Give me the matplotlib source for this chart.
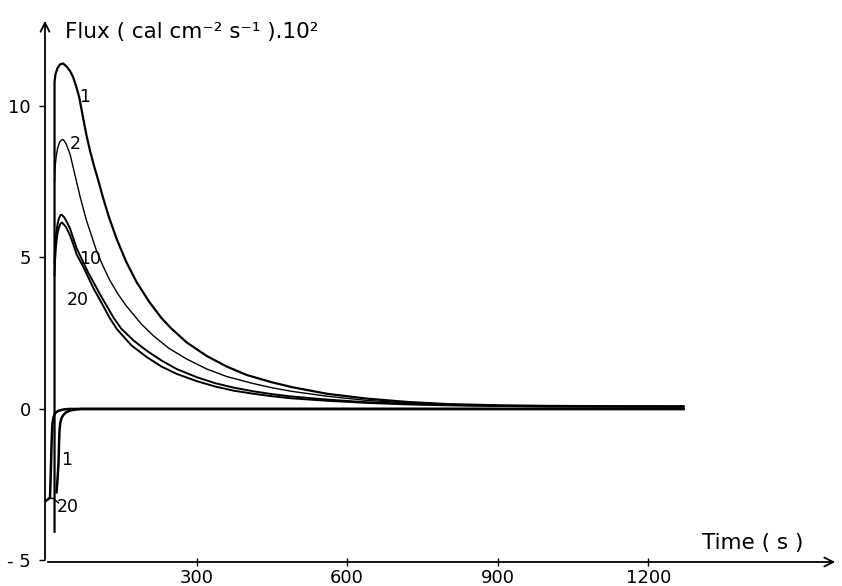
import matplotlib
matplotlib.use("Agg")
import matplotlib.pyplot as plt

# ---- data ----
t_c1 = [17, 17, 19, 23, 28, 34, 41, 48, 54, 60, 66, 74, 81, 88, 96, 104, 114, 125, 141, 160, 180, 205, 230, 250, 280, 320, 360, 400, 450, 490, 560, 640, 720, 800, 900, 1000, 1130, 1270]
v_c1 = [-4.05, 10.8, 11.05, 11.25, 11.37, 11.4, 11.3, 11.15, 10.95, 10.65, 10.3, 9.6, 9.0, 8.5, 8.0, 7.55, 6.95, 6.35, 5.6, 4.85, 4.2, 3.55, 3.0, 2.65, 2.2, 1.75, 1.4, 1.12, 0.88, 0.72, 0.5, 0.34, 0.23, 0.16, 0.12, 0.1, 0.09, 0.08]

t_c2 = [17, 18, 20, 23, 27, 31, 35, 40, 48, 58, 68, 81, 91, 101, 114, 127, 143, 160, 175, 190, 215, 245, 280, 320, 360, 410, 450, 490, 560, 640, 720, 800, 900, 1000, 1130, 1270]
v_c2 = [7.5, 7.95, 8.3, 8.6, 8.8, 8.88, 8.88, 8.75, 8.4, 7.7, 7.0, 6.2, 5.7, 5.2, 4.7, 4.25, 3.8, 3.4, 3.1, 2.8, 2.4, 2.0, 1.65, 1.32, 1.07, 0.85, 0.7, 0.58, 0.42, 0.28, 0.2, 0.14, 0.11, 0.09, 0.08, 0.08]

t_c10 = [17, 18, 20, 23, 26, 29, 32, 36, 40, 48, 55, 61, 74, 84, 94, 107, 121, 135, 150, 175, 200, 230, 260, 300, 337, 375, 414, 450, 490, 560, 640, 720, 800, 900, 1000, 1130, 1270]
v_c10 = [4.8, 5.3, 5.75, 6.1, 6.3, 6.4, 6.4, 6.33, 6.22, 5.95, 5.6, 5.3, 4.85, 4.5, 4.2, 3.8, 3.4, 3.0, 2.65, 2.25, 1.93, 1.6, 1.32, 1.05, 0.85, 0.7, 0.58, 0.49, 0.41, 0.31, 0.22, 0.17, 0.13, 0.1, 0.09, 0.08, 0.08]

t_c20 = [17, 18, 20, 23, 26, 29, 32, 36, 40, 48, 55, 61, 74, 84, 94, 104, 114, 127, 141, 170, 200, 230, 260, 300, 337, 375, 414, 450, 490, 560, 640, 720, 800, 900, 1000, 1130, 1270]
v_c20 = [4.4, 4.9, 5.4, 5.8, 6.0, 6.12, 6.15, 6.08, 6.0, 5.72, 5.4, 5.1, 4.7, 4.35, 4.0, 3.7, 3.4, 3.0, 2.64, 2.1, 1.72, 1.4, 1.16, 0.92, 0.74, 0.6, 0.5, 0.42, 0.35, 0.27, 0.2, 0.15, 0.12, 0.1, 0.08, 0.08, 0.08]

t_n20 = [0, 4, 8, 9, 10, 11, 12, 13, 15, 17, 20, 25, 34, 45, 60, 1270]
v_n20 = [-3.03, -2.98, -2.92, -2.4, -1.8, -1.2, -0.75, -0.45, -0.27, -0.18, -0.11, -0.06, -0.02, 0.0, 0.0, 0.0]

t_n1 = [21, 23, 25, 26, 27, 28.5, 31, 34.5, 40, 48, 58, 70, 1270]
v_n1 = [-2.75, -2.3, -1.76, -1.1, -0.7, -0.45, -0.3, -0.2, -0.11, -0.05, -0.02, 0.0, 0.0]

x_ticks = [300, 600, 900, 1200]
y_ticks = [-5, 0, 5, 10]
y_tick_labels = ["- 5", "0", "5", "10"]

W, H = 842, 586
fig = plt.figure(figsize=(W / 100, H / 100), dpi=100)
ax = fig.add_axes([45 / W, 1 - 562 / H, (838 - 45) / W, (562 - 18) / H])
ax.set_xlim(-2, 1578)
ax.set_ylim(-5.05, 12.9)

k = "black"
ax.plot(t_c1, v_c1, color=k, lw=1.6, solid_joinstyle="round")
ax.plot(t_c2, v_c2, color=k, lw=1.0, solid_joinstyle="round")
ax.plot(t_c10, v_c10, color=k, lw=1.4, solid_joinstyle="round")
ax.plot(t_c20, v_c20, color=k, lw=1.4, solid_joinstyle="round")
ax.plot(t_n20, v_n20, color=k, lw=1.8, solid_joinstyle="round")
ax.plot(t_n1, v_n1, color=k, lw=1.8, solid_joinstyle="round")

# curve labels
fs_lab = 12.5
ax.text(77, 10.3, "1", fontsize=fs_lab, ha="center", va="center")
ax.text(58, 8.75, "2", fontsize=fs_lab, ha="center", va="center")
ax.text(88, 4.95, "10", fontsize=fs_lab, ha="center", va="center")
ax.text(64, 3.6, "20", fontsize=fs_lab, ha="center", va="center")
ax.text(42, -1.7, "1", fontsize=fs_lab, ha="center", va="center")
ax.text(44, -3.25, "20", fontsize=fs_lab, ha="center", va="center")
ax.plot([25, 14, 8], [-3.1, -2.95, -2.95], color=k, lw=1.0)

# axes styling
for s in ["top", "right", "left", "bottom"]:
    ax.spines[s].set_visible(False)
ax.annotate("", xy=(1.0, 0.0), xytext=(0.0, 0.0), xycoords="axes fraction",
            arrowprops=dict(arrowstyle="->", color=k, lw=1.3, mutation_scale=16))
ax.annotate("", xy=(0.0, 1.0), xytext=(0.0, 0.0), xycoords="axes fraction",
            arrowprops=dict(arrowstyle="->", color=k, lw=1.3, mutation_scale=16))

ax.set_xticks(x_ticks)
ax.set_xticklabels([str(v) for v in x_ticks])
ax.set_yticks(y_ticks)
ax.set_yticklabels(y_tick_labels)
ax.tick_params(axis="x", direction="inout", length=6, width=1, pad=2, labelsize=13)
ax.tick_params(axis="y", direction="out", length=4, width=1, pad=6, labelsize=13)

fig.text(65 / W, 1 - 32 / H, "Flux ( cal cm\u207b\u00b2 s\u207b\u00b9 ).10\u00b2",
         fontsize=15.5, ha="left", va="center")
fig.text(702 / W, 1 - 543 / H, "Time ( s )", fontsize=15.5, ha="left", va="center")

fig.savefig("out.png", dpi=100)
